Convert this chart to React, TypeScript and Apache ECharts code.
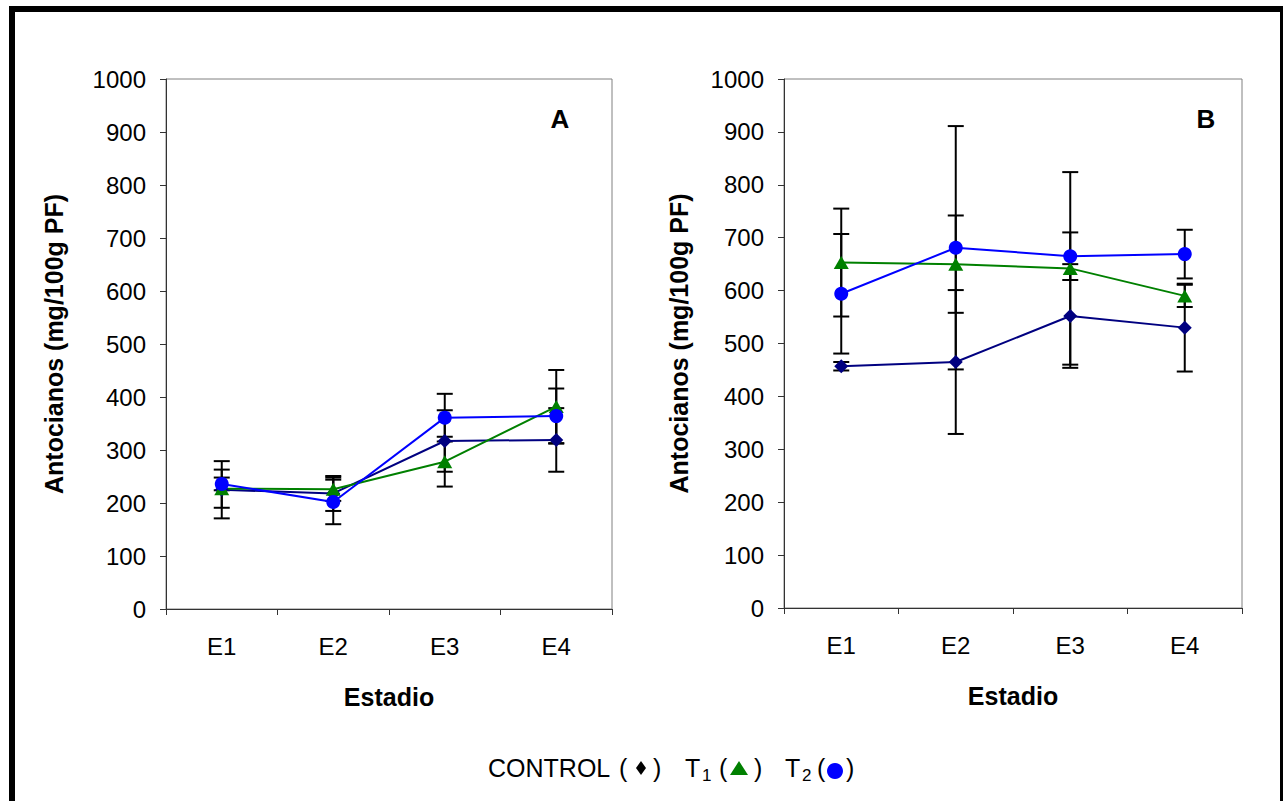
import React, { useEffect, useRef } from "react";
import * as echarts from "echarts";

const categories = ["E1", "E2", "E3", "E4"];
const yTicks = [0, 100, 200, 300, 400, 500, 600, 700, 800, 900, 1000];

// Panel A
const controlA = [225, 218, 317, 319];
const controlAErr = [54, 33, 58, 60];
const t1A = [227, 226, 278, 382];
const t1AErr = [36, 22, 47, 69];
const t2A = [236, 202, 361, 364];
const t2AErr = [12, 42, 45, 52];

// Panel B
const controlB = [457, 465, 552, 530];
const controlBErr = [8, 136, 98, 83];
const t1B = [653, 650, 642, 590];
const t1BErr = [102, 92, 182, 21];
const t2B = [594, 681, 665, 669];
const t2BErr = [113, 230, 45, 46];

const FONT = "Liberation Sans";
const C_CONTROL = "#000080";
const C_T1 = "#008000";
const C_T2 = "#0000FF";

function errData(vals: number[], errs: number[]) {
  return vals.map((v, i) => [i, v - errs[i], v + errs[i]]);
}

function errorSeries(idx: number, data: number[][]) {
  return {
    type: "custom",
    xAxisIndex: idx,
    yAxisIndex: idx,
    z: 1,
    silent: true,
    renderItem: (params: any, api: any) => {
      const x = api.value(0);
      const lo = api.coord([x, api.value(1)]);
      const hi = api.coord([x, api.value(2)]);
      const hw = 8;
      const st = { stroke: "#000", lineWidth: 2 };
      return {
        type: "group",
        children: [
          { type: "line", shape: { x1: lo[0], y1: lo[1], x2: hi[0], y2: hi[1] }, style: st },
          { type: "line", shape: { x1: lo[0] - hw, y1: lo[1], x2: lo[0] + hw, y2: lo[1] }, style: st },
          { type: "line", shape: { x1: hi[0] - hw, y1: hi[1], x2: hi[0] + hw, y2: hi[1] }, style: st },
        ],
      };
    },
    data,
  };
}

function lineSeries(idx: number, name: string, data: number[], color: string, symbol: string, size: any) {
  return {
    type: "line",
    name,
    xAxisIndex: idx,
    yAxisIndex: idx,
    z: 3,
    data,
    symbol,
    symbolSize: size,
    showAllSymbol: true,
    lineStyle: { color, width: 2 },
    itemStyle: { color, borderWidth: 0 },
  };
}

function xAxis(idx: number) {
  return {
    type: "category",
    gridIndex: idx,
    data: categories,
    boundaryGap: true,
    axisLine: { show: true, lineStyle: { color: "#333", width: 1 } },
    axisTick: { show: true, length: 6, inside: false, lineStyle: { color: "#333" } },
    axisLabel: { fontFamily: FONT, fontSize: 24, color: "#000", margin: 25 },
    name: "Estadio",
    nameLocation: "middle",
    nameGap: 75,
    nameTextStyle: { fontFamily: FONT, fontSize: 25, fontWeight: "bold", color: "#000" },
    splitLine: { show: false },
  };
}

function yAxis(idx: number, gap: number) {
  return {
    type: "value",
    gridIndex: idx,
    min: yTicks[0],
    max: yTicks[yTicks.length - 1],
    interval: yTicks[1] - yTicks[0],
    axisLine: { show: true, lineStyle: { color: "#333", width: 1 } },
    axisTick: { show: true, length: 6, inside: false, lineStyle: { color: "#333" } },
    axisLabel: { fontFamily: FONT, fontSize: 24, color: "#000", margin: 20, formatter: (v: number) => String(v) },
    splitLine: { show: false },
    name: "Antocianos (mg/100g PF)",
    nameLocation: "middle",
    nameRotate: 90,
    nameGap: gap,
    nameTextStyle: { fontFamily: FONT, fontSize: 25, fontWeight: "bold", color: "#000" },
  };
}

function legendText(text: string, x: number, y: number, size: number) {
  return {
    type: "text",
    x,
    y,
    silent: true,
    style: { text, fontFamily: FONT, fontSize: size, fill: "#000", align: "left", verticalAlign: "middle" },
  };
}

export default function App() {
  const ref = useRef<HTMLDivElement>(null);
  useEffect(() => {
    document.body.style.margin = "0";
    if (!ref.current) return;
    const chart = echarts.init(ref.current, undefined, { renderer: "svg" });
    chart.setOption({
      animation: false,
      backgroundColor: "#fff",
      grid: [
        { left: 166, top: 79, width: 446, height: 530, show: true, borderColor: "#808080", borderWidth: 1, backgroundColor: "#fff" },
        { left: 784, top: 79, width: 458, height: 529, show: true, borderColor: "#808080", borderWidth: 1, backgroundColor: "#fff" },
      ],
      xAxis: [xAxis(0), xAxis(1)],
      yAxis: [yAxis(0, 100), yAxis(1, 93)],
      series: [
        errorSeries(0, [...errData(controlA, controlAErr), ...errData(t1A, t1AErr), ...errData(t2A, t2AErr)]),
        errorSeries(1, [...errData(controlB, controlBErr), ...errData(t1B, t1BErr), ...errData(t2B, t2BErr)]),
        lineSeries(0, "CONTROL", controlA, C_CONTROL, "diamond", 14),
        lineSeries(0, "T1", t1A, C_T1, "triangle", [15, 13]),
        lineSeries(0, "T2", t2A, C_T2, "circle", 14),
        lineSeries(1, "CONTROL", controlB, C_CONTROL, "diamond", 14),
        lineSeries(1, "T1", t1B, C_T1, "triangle", [15, 13]),
        lineSeries(1, "T2", t2B, C_T2, "circle", 14),
      ],
      graphic: [
        {
          type: "rect",
          shape: { x: 12, y: 9, width: 1271, height: 800 },
          style: { fill: "none", stroke: "#000", lineWidth: 6 },
          silent: true,
        },
        {
          type: "text",
          x: 560,
          y: 119,
          style: { text: "A", fontFamily: FONT, fontSize: 26, fontWeight: "bold", fill: "#000", align: "center", verticalAlign: "middle" },
        },
        {
          type: "text",
          x: 1206,
          y: 119,
          style: { text: "B", fontFamily: FONT, fontSize: 26, fontWeight: "bold", fill: "#000", align: "center", verticalAlign: "middle" },
        },
        legendText("CONTROL", 488, 768, 25),
        legendText("(", 619, 768, 25),
        { type: "polygon", shape: { points: [[641, 761], [646, 768], [641, 775], [636, 768]] }, style: { fill: "#000" }, silent: true },
        legendText(")", 653, 768, 25),
        legendText("T", 685, 768, 25),
        legendText("1", 702, 775, 17),
        legendText("(", 719, 768, 25),
        { type: "polygon", shape: { points: [[730, 775], [748, 775], [739, 761]] }, style: { fill: C_T1 }, silent: true },
        legendText(")", 754, 768, 25),
        legendText("T", 785, 768, 25),
        legendText("2", 802, 775, 17),
        legendText("(", 817, 768, 25),
        { type: "circle", shape: { cx: 835, cy: 771, r: 8 }, style: { fill: C_T2 }, silent: true },
        legendText(")", 846, 768, 25),
      ],
    });
    return () => chart.dispose();
  }, []);
  return <div ref={ref} style={{ width: 1283, height: 801 }} />;
}
